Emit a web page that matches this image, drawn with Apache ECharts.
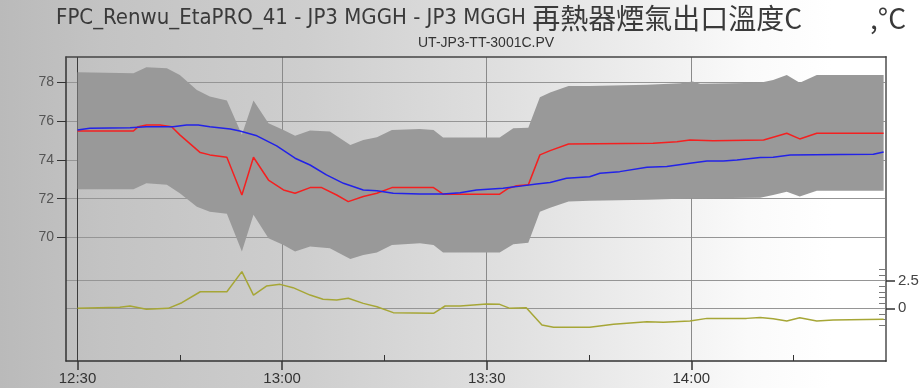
<!DOCTYPE html>
<html>
<head>
<meta charset="utf-8">
<script src="https://cdn.jsdelivr.net/npm/echarts@6/dist/echarts.min.js"></script>
<style>
  html, body { margin: 0; padding: 0; }
  #chart {
    width: 924px; height: 388px;
    background: linear-gradient(to right, #bababa 0%, #c3c3c3 11%, #cecece 33%, #dfdfdf 54%, #eeeeee 70%, #fafafa 81%, #ffffff 90%);
  }
</style>
</head>
<body>
<div id="chart"></div>
<script>
// Time is given in minutes after 12:30.
const tickMinutes = [0, 30, 60, 90];
const tickLabels = ['12:30', '13:00', '13:30', '14:00'];
const minorTickMinutes = [15, 45, 75, 105];
const tempTicks = [70, 72, 74, 76, 78];
const devTicks = [0, 2.5];
const devMinorTicks = [-1.5, -1, -0.5, 0.5, 1, 1.5, 2, 3, 3.5];

// Measured outlet temperature (°C)
const actualMin = [0, 8.2, 8.9, 10.1, 12.1, 13.8, 15.0, 18.0, 19.4, 21.9, 24.1, 25.8, 28.0, 30.2, 31.9, 34.1, 35.8, 38.0, 39.7, 41.9, 43.9, 46.1, 52.2, 53.6, 61.9, 63.2, 64.4, 66.1, 67.8, 69.3, 72.0, 84.4, 87.9, 89.8, 93.2, 100.6, 102.0, 104.0, 105.9, 108.4, 118.2];
const actualTemp = [75.48, 75.48, 75.70, 75.79, 75.79, 75.70, 75.28, 74.37, 74.25, 74.13, 72.19, 74.13, 72.96, 72.45, 72.28, 72.57, 72.57, 72.19, 71.85, 72.11, 72.28, 72.57, 72.57, 72.23, 72.23, 72.54, 72.66, 72.71, 74.25, 74.47, 74.81, 74.85, 74.93, 75.02, 74.98, 75.02, 75.16, 75.36, 75.07, 75.36, 75.36];

// Expected (model) outlet temperature (°C)
const expectedMin = [0, 1.8, 7.7, 10.1, 14.0, 16.0, 17.7, 19.4, 22.4, 23.8, 26.3, 29.2, 31.9, 34.1, 36.5, 39.0, 41.9, 43.9, 46.3, 50.2, 53.6, 56.1, 58.5, 62.4, 64.4, 67.3, 69.3, 71.7, 75.1, 76.6, 79.5, 83.5, 86.4, 89.8, 92.3, 94.7, 96.7, 100.1, 102.0, 104.5, 111.8, 116.7, 118.2];
const expectedTemp = [75.53, 75.62, 75.65, 75.70, 75.70, 75.79, 75.79, 75.70, 75.58, 75.48, 75.23, 74.71, 74.08, 73.73, 73.22, 72.79, 72.45, 72.41, 72.28, 72.24, 72.24, 72.31, 72.45, 72.54, 72.62, 72.76, 72.83, 73.05, 73.13, 73.31, 73.39, 73.62, 73.65, 73.82, 73.94, 73.94, 73.99, 74.12, 74.13, 74.25, 74.27, 74.28, 74.40];

// Tolerance band around the measurement (°C)
const bandMin = [0, 8.2, 10.1, 13.1, 15.0, 17.5, 19.4, 21.9, 24.1, 25.8, 28.0, 30.2, 31.9, 34.1, 37.0, 40.0, 41.9, 43.9, 46.1, 50.2, 52.2, 53.6, 61.9, 63.9, 66.1, 67.8, 69.3, 72.0, 75.1, 83.5, 88.4, 90.2, 91.3, 100.1, 102.0, 104.0, 105.9, 108.4, 118.2];
const bandUpper = [78.50, 78.45, 78.75, 78.70, 78.36, 77.59, 77.25, 77.04, 75.28, 77.04, 75.88, 75.53, 75.23, 75.50, 75.45, 74.76, 75.02, 75.16, 75.53, 75.58, 75.53, 75.14, 75.14, 75.62, 75.65, 77.21, 77.45, 77.79, 77.79, 77.85, 77.93, 78.02, 77.90, 77.96, 78.10, 78.36, 77.96, 78.36, 78.36];
const bandLower = [72.49, 72.49, 72.79, 72.71, 72.28, 71.59, 71.33, 71.22, 69.28, 71.17, 69.97, 69.62, 69.28, 69.54, 69.45, 68.90, 69.11, 69.23, 69.62, 69.71, 69.62, 69.23, 69.23, 69.66, 69.74, 71.33, 71.54, 71.85, 71.90, 71.94, 72.00, 72.02, 72.02, 72.05, 72.19, 72.36, 72.11, 72.41, 72.41];

// Deviation, right axis
const deviationMin = [0, 6.2, 7.7, 10.1, 13.3, 15.3, 18.0, 21.9, 24.1, 25.8, 27.7, 29.7, 31.6, 34.1, 36.0, 38.0, 39.7, 41.9, 43.9, 46.3, 52.2, 53.9, 56.1, 60.0, 61.9, 63.4, 65.8, 68.1, 69.8, 75.1, 78.6, 83.5, 85.9, 89.8, 92.3, 98.1, 100.1, 102.0, 104.0, 105.9, 108.4, 110.8, 118.2];
const deviation = [0, 0.09, 0.21, -0.09, 0, 0.51, 1.50, 1.50, 3.32, 1.20, 2.02, 2.17, 1.87, 1.20, 0.82, 0.75, 0.91, 0.45, 0.14, -0.39, -0.45, 0.21, 0.21, 0.39, 0.36, 0, 0.05, -1.51, -1.72, -1.72, -1.45, -1.21, -1.27, -1.15, -0.91, -0.91, -0.83, -0.94, -1.15, -0.85, -1.15, -1.06, -1.0];

const pairs = (xs, ys) => xs.map((x, i) => [x, ys[i]]);

const labelFont = '"Liberation Sans", Arial, sans-serif';
const narrowFont = '"DejaVu Sans Condensed", "Liberation Sans", sans-serif';
const cjkFont = '"Noto Sans CJK TC", "Noto Sans CJK SC", sans-serif';

const chart = echarts.init(document.getElementById('chart'), null, { renderer: 'canvas' });

const xRange = { min: -1.69, max: 118.55 };

chart.setOption({
  animation: false,
  backgroundColor: 'transparent',
  title: [
    {
      left: 56, top: 4, padding: 0,
      text: '{a|FPC_Renwu_EtaPRO_41 - JP3 MGGH - JP3 MGGH }{b|再熱器煙氣出口溫度C}{gap|}{b|,°C}',
      textStyle: {
        fontWeight: 'normal',
        rich: {
          a: { fontFamily: narrowFont, fontSize: 22, fontWeight: 'normal', color: '#3a3a3a' },
          b: { fontFamily: cjkFont, fontSize: 28, fontWeight: 'normal', color: '#3a3a3a' },
          gap: { width: 68 }
        }
      }
    },
    {
      left: 418, top: 36, padding: 0,
      text: 'UT-JP3-TT-3001C.PV',
      textStyle: { fontFamily: labelFont, fontSize: 14, fontWeight: 'normal', color: '#333' }
    }
  ],
  grid: { left: 66, right: 38, top: 57, bottom: 27, containLabel: false },
  xAxis: [
    {
      type: 'value', position: 'bottom', min: xRange.min, max: xRange.max,
      axisLine: { show: true, onZero: false, lineStyle: { color: '#333', width: 1.5 } },
      axisTick: { show: true, length: 9, customValues: tickMinutes, lineStyle: { color: '#333', width: 1.5 } },
      axisLabel: {
        customValues: tickMinutes, margin: 10,
        fontFamily: labelFont, fontSize: 15, color: '#333',
        formatter: v => tickLabels[tickMinutes.indexOf(v)] || ''
      },
      splitLine: { show: true, lineStyle: { color: ['#3c3c3c', '#8a8a8a', '#8a8a8a', '#8a8a8a'], width: 1 } }
    },
    {
      // frame top edge
      type: 'value', position: 'top', min: xRange.min, max: xRange.max,
      axisLine: { show: true, onZero: false, lineStyle: { color: '#444', width: 1.5 } },
      axisTick: { show: false }, axisLabel: { show: false }, splitLine: { show: false }
    },
    {
      // minor time ticks
      type: 'value', position: 'bottom', min: xRange.min, max: xRange.max,
      axisLine: { show: false, onZero: false },
      axisTick: { show: true, inside: true, length: 6, customValues: minorTickMinutes, lineStyle: { color: '#333', width: 1 } },
      axisLabel: { show: false }, splitLine: { show: false }
    }
  ],
  yAxis: [
    {
      type: 'value', position: 'left', min: 63.66, max: 79.28,
      axisLine: { show: true, onZero: false, lineStyle: { color: '#333', width: 1.5 } },
      axisTick: { show: true, length: 9, customValues: tempTicks, lineStyle: { color: '#333' } },
      axisLabel: { customValues: tempTicks, margin: 12, fontFamily: labelFont, fontSize: 14, color: '#555' },
      splitLine: { show: true, lineStyle: { color: '#959595', width: 1 } }
    },
    {
      type: 'value', position: 'right', min: -4.77, max: 22.76,
      axisLine: { show: true, onZero: false, lineStyle: { color: '#7a7a7a', width: 2 } },
      axisTick: { show: true, length: 9, customValues: devTicks, lineStyle: { color: '#333', width: 1.5 } },
      axisLabel: { customValues: devTicks, margin: 12, fontFamily: labelFont, fontSize: 15, color: '#444', formatter: v => String(v) },
      splitLine: { show: true, lineStyle: { color: '#959595', width: 1 } }
    },
    {
      // minor deviation ticks
      type: 'value', position: 'right', min: -4.77, max: 22.76,
      axisLine: { show: false, onZero: false },
      axisTick: { show: true, inside: true, length: 7, customValues: devMinorTicks, lineStyle: { color: '#777', width: 1 } },
      axisLabel: { show: false }, splitLine: { show: false }
    }
  ],
  series: [
    {
      name: 'band',
      type: 'custom',
      xAxisIndex: 0, yAxisIndex: 0,
      silent: true, clip: true, z: 1,
      data: [[bandMin[0], bandUpper[0]]],
      renderItem: function (params, api) {
        const pts = [];
        for (let i = 0; i < bandMin.length; i++) pts.push(api.coord([bandMin[i], bandUpper[i]]));
        for (let i = bandMin.length - 1; i >= 0; i--) pts.push(api.coord([bandMin[i], bandLower[i]]));
        return { type: 'polygon', shape: { points: pts }, style: { fill: '#999999' } };
      }
    },
    {
      name: 'deviation', type: 'line', xAxisIndex: 0, yAxisIndex: 1,
      data: pairs(deviationMin, deviation), showSymbol: false, z: 3,
      lineStyle: { color: '#a6a636', width: 1.5 }
    },
    {
      name: 'actual', type: 'line', xAxisIndex: 0, yAxisIndex: 0,
      data: pairs(actualMin, actualTemp), showSymbol: false, z: 4,
      lineStyle: { color: '#f42020', width: 1.5 }
    },
    {
      name: 'expected', type: 'line', xAxisIndex: 0, yAxisIndex: 0,
      data: pairs(expectedMin, expectedTemp), showSymbol: false, z: 5,
      lineStyle: { color: '#2222e8', width: 1.5 }
    }
  ]
});
</script>
</body>
</html>
